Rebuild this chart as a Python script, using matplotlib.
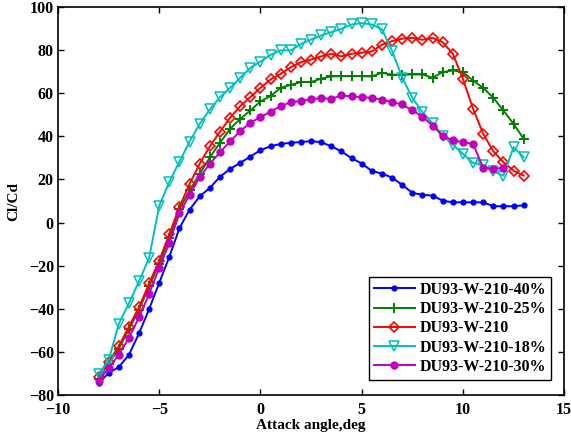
import matplotlib
matplotlib.use("Agg")
import matplotlib.pyplot as plt

# attack angles, deg
angle = [-8, -7.5, -7, -6.5, -6, -5.5, -5, -4.5, -4, -3.5, -3, -2.5, -2, -1.5,
         -1, -0.5, 0, 0.5, 1, 1.5, 2, 2.5, 3, 3.5, 4, 4.5, 5, 5.5, 6, 6.5,
         7, 7.5, 8, 8.5, 9, 9.5, 10, 10.5, 11, 11.5, 12, 12.5, 13]

cd_40 = [-74.6, -69.8, -67.0, -61.4, -51.4, -40.1, -27.9, -15.8, -2.5, 6.0,
         12.2, 16.1, 21.2, 24.9, 27.7, 30.6, 33.6, 35.4, 36.5, 37.0, 37.4,
         37.8, 37.3, 35.4, 33.0, 29.9, 27.4, 24.0, 22.7, 20.9, 17.5, 13.8,
         12.9, 12.5, 10.2, 9.4, 9.4, 9.4, 9.4, 7.6, 7.6, 7.6, 8.0]

cd_25 = [-72.5, -65.5, -58.5, -49.5, -40.5, -29.5, -19.0, -7.0, 6.3, 14.9,
         22.6, 30.3, 37.0, 43.5, 48.1, 52.0, 56.2, 58.7, 62.5, 63.9, 65.2,
         65.2, 66.8, 67.8, 67.9, 67.9, 67.9, 67.8, 69.5, 68.6, 68.6, 68.7,
         68.7, 67.2, 69.8, 70.6, 69.8, 65.9, 62.5, 57.9, 52.0, 45.8, 38.9]

cd_base = [-71.5, -64.5, -57.4, -48.3, -39.3, -28.2, -17.6, -5.3, 7.3, 18.0,
           27.3, 35.4, 42.2, 48.6, 54.0, 58.2, 62.5, 66.4, 69.0, 72.1, 74.4,
           75.6, 77.1, 78.3, 77.1, 78.3, 78.8, 79.4, 82.5, 84.2, 85.3, 85.7,
           84.8, 85.7, 83.7, 78.3, 66.7, 52.8, 41.2, 33.1, 28.0, 24.1, 21.8]

cd_18 = [-70.3, -63.8, -47.0, -37.5, -27.2, -16.4, 7.8, 19.0, 28.3, 37.6,
         45.8, 52.5, 58.2, 62.5, 67.2, 71.8, 74.7, 77.8, 79.9, 79.9, 82.8,
         84.9, 86.8, 88.4, 89.9, 91.9, 92.5, 91.9, 89.7, 79.7, 67.3, 57.9,
         51.2, 46.1, 40.4, 36.2, 31.9, 27.7, 26.5, 23.8, 21.8, 35.0, 30.3]

# 30% case stops at 12 deg
cd_30 = [-73.4, -67.5, -61.3, -53.5, -44.0, -33.1, -21.0, -9.4, 4.4, 12.9,
         21.0, 27.3, 32.6, 37.7, 42.4, 46.3, 48.9, 51.5, 54.0, 55.9, 56.4,
         57.2, 57.7, 57.4, 59.0, 58.5, 58.2, 57.9, 57.0, 55.9, 54.8, 52.0,
         49.2, 45.0, 40.4, 38.1, 37.3, 36.5, 25.5, 24.9, 25.4]

labels = ["DU93-W-210-40%", "DU93-W-210-25%", "DU93-W-210",
          "DU93-W-210-18%", "DU93-W-210-30%"]

plt.rcParams["font.family"] = ["Liberation Serif", "DejaVu Serif"]
plt.rcParams["font.weight"] = "bold"

fig = plt.figure(figsize=(5.71, 4.38), dpi=100)
ax = fig.add_axes([0.1016, 0.098, 0.8864, 0.886])

lw = 1.4
ax.plot(angle, cd_40, color="#0000ff", lw=lw, marker="o", ms=3.5,
        label=labels[0])
ax.plot(angle, cd_25, color="#008000", lw=lw, marker="+", ms=7, mew=1.4,
        label=labels[1])
ax.plot(angle, cd_base, color="#ff0000", lw=lw, marker="D", ms=5,
        mfc="none", mew=1.2, label=labels[2])
ax.plot(angle, cd_18, color="#00bfbf", lw=lw, marker="v", ms=6.5,
        mfc="none", mew=1.1, label=labels[3])
ax.plot(angle[:len(cd_30)], cd_30, color="#bf00bf", lw=lw, marker="o",
        ms=5, label=labels[4])

ax.set_xlim(-10, 15)
ax.set_ylim(-80, 100)
ax.set_xticks([-10, -5, 0, 5, 10, 15])
ax.set_yticks(range(-80, 101, 20))
ax.tick_params(direction="in", top=True, right=True, length=4, width=1,
               labelsize=11.5, pad=3)
ax.tick_params(axis="x", pad=5)
for lab in ax.get_xticklabels() + ax.get_yticklabels():
    lab.set_fontweight("bold")
for s in ax.spines.values():
    s.set_linewidth(1.2)

ax.set_xlabel("Attack angle,deg", fontsize=11, fontweight="bold", labelpad=1)
ax.set_ylabel("Cl/Cd", fontsize=11, fontweight="bold", labelpad=6)

leg = ax.legend(loc="lower right", bbox_to_anchor=(0.975, 0.04),
                borderaxespad=0, fancybox=False, framealpha=1,
                edgecolor="black", prop={"size": 11.5, "weight": "bold"},
                handlelength=2.6, handletextpad=0.3, labelspacing=0.2,
                borderpad=0.3)
leg.get_frame().set_linewidth(1.0)

fig.savefig("out.png", dpi=100)
